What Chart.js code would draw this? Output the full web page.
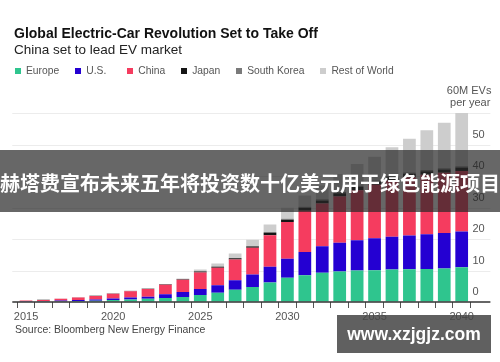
<!DOCTYPE html>
<html>
<head>
<meta charset="utf-8">
<script src="https://cdn.jsdelivr.net/npm/chart.js"></script>
<style>
body { margin: 0; background: #fff; }
#wrap { position: relative; width: 500px; height: 362px; overflow: hidden; font-family: "Liberation Sans", Arial, sans-serif; }
#evChart { position: absolute; left: 0; top: 0; }
.title { position: absolute; left: 14px; top: 25px; font-size: 14px; line-height: 16px; font-weight: bold; color: #111; white-space: nowrap; }
.subtitle { position: absolute; left: 14px; top: 42px; font-size: 13.5px; line-height: 16px; color: #222; white-space: nowrap; }
#legend { position: absolute; left: 15px; top: 64px; display: flex; gap: 16px; font-size: 10.3px; line-height: 13px; color: #555; }
#legend .item { display: flex; align-items: center; min-width: 36px; white-space: nowrap; }
#legend .box { width: 6px; height: 6px; margin-right: 5px; }
.source { position: absolute; left: 15px; top: 323px; font-size: 10.5px; line-height: 13px; color: #444; white-space: nowrap; }
.banner { position: absolute; left: 0; top: 150px; width: 500px; height: 62px; background: rgba(38,38,38,0.7); overflow: hidden; }
.banner span { display: block; width: 500px; text-align: center; white-space: nowrap; font-family: "Noto Sans CJK SC", sans-serif; font-weight: bold; font-size: 20px; line-height: 62px; color: #fff; padding-top: 2px; }
.mark { position: absolute; left: 337px; top: 315px; width: 154px; height: 38px; background: rgba(70,70,70,0.86); color: #fff; font-weight: bold; font-size: 17.5px; line-height: 38px; text-align: center; }
</style>
</head>
<body>
<div id="wrap">
  <canvas id="evChart" width="500" height="362"></canvas>
  <div class="title">Global Electric-Car Revolution Set to Take Off</div>
  <div class="subtitle">China set to lead EV market</div>
  <div id="legend"></div>
  <div class="source">Source: Bloomberg New Energy Finance</div>
  <div class="banner"><span>赫塔费宣布未来五年将投资数十亿美元用于绿色能源项目</span></div>
  <div class="mark">www.xzjgjz.com</div>
</div>
<script>
// EV sales per year, millions
const years = [2015, 2016, 2017, 2018, 2019, 2020, 2021, 2022, 2023, 2024, 2025, 2026, 2027,
               2028, 2029, 2030, 2031, 2032, 2033, 2034, 2035, 2036, 2037, 2038, 2039, 2040];
const europe = [0.15, 0.2, 0.25, 0.3, 0.4, 0.6, 0.8, 1.0, 1.3, 1.6, 2.2, 2.9, 3.9,
                4.8, 6.2, 7.7, 8.5, 9.3, 9.7, 10.0, 10.1, 10.3, 10.4, 10.5, 10.6, 11.0];
const us = [0.1, 0.15, 0.2, 0.3, 0.4, 0.5, 0.6, 0.7, 1.2, 1.6, 1.9, 2.4, 3.0,
            3.9, 5.0, 6.0, 7.4, 8.4, 9.1, 9.6, 10.1, 10.4, 10.7, 11.0, 11.3, 11.4];
const china = [0.2, 0.3, 0.55, 0.8, 1.1, 1.5, 2.0, 2.4, 3.0, 3.9, 5.3, 5.6, 6.6,
               8.5, 10.0, 11.7, 13.1, 13.6, 14.7, 15.9, 17.0, 17.9, 18.5, 18.9, 19.1, 19.2];
const japan = [0.02, 0.03, 0.04, 0.05, 0.05, 0.06, 0.07, 0.08, 0.1, 0.15, 0.3, 0.3, 0.4,
               0.45, 0.7, 0.75, 0.9, 0.9, 1.0, 1.0, 1.0, 1.0, 1.1, 1.1, 1.1, 1.1];
const southKorea = [0.01, 0.01, 0.02, 0.02, 0.03, 0.04, 0.05, 0.05, 0.05, 0.05, 0.1, 0.1, 0.1,
                    0.15, 0.3, 0.3, 0.3, 0.4, 0.4, 0.4, 0.4, 0.4, 0.4, 0.4, 0.4, 0.4];
const restOfWorld = [0.02, 0.03, 0.04, 0.05, 0.05, 0.1, 0.1, 0.1, 0.1, 0.2, 0.5, 0.9, 1.4,
                     2.0, 2.4, 3.5, 3.6, 4.4, 5.7, 6.9, 7.5, 9.1, 10.7, 12.6, 14.4, 16.9];
const seriesNames = ["Europe", "U.S.", "China", "Japan", "South Korea", "Rest of World"];
const seriesColors = ["#2fc58e", "#2400d2", "#f53c5f", "#151515", "#7a7a7a", "#cdcdcd"];
const yMax = 60;
const yStep = 10;

const seriesData = [europe, us, china, japan, southKorea, restOfWorld];

// legend
const legend = document.getElementById("legend");
seriesNames.forEach(function (name, i) {
    const item = document.createElement("div");
    item.className = "item";
    item.innerHTML = '<span class="box" style="background:' + seriesColors[i] + '"></span>' + name;
    legend.appendChild(item);
});

// full width grid, baseline and unit label
const decor = {
    id: "decor",
    beforeDatasetsDraw(chart) {
        const ctx = chart.ctx, y = chart.scales.y, area = chart.chartArea;
        ctx.save();
        ctx.strokeStyle = "#ececec";
        ctx.lineWidth = 1;
        y.ticks.forEach(function (t) {
            if (t.value === 0) return;
            const py = Math.round(y.getPixelForValue(t.value)) + 0.5;
            ctx.beginPath();
            ctx.moveTo(area.left - 5, py);
            ctx.lineTo(area.right + 20, py);
            ctx.stroke();
        });
        ctx.restore();
    },
    afterDatasetsDraw(chart) {
        const ctx = chart.ctx, y = chart.scales.y, area = chart.chartArea;
        const py = y.getPixelForValue(0);
        ctx.save();
        ctx.strokeStyle = "#333";
        ctx.lineWidth = 1.5;
        ctx.beginPath();
        ctx.moveTo(area.left - 5, py);
        ctx.lineTo(area.right + 20, py);
        ctx.stroke();

        const top = y.getPixelForValue(yMax);
        ctx.fillStyle = "#555";
        ctx.font = "11px 'Liberation Sans', Arial, sans-serif";
        ctx.textAlign = "right";
        ctx.textBaseline = "middle";
        ctx.fillText(yMax + "M EVs", area.right + 21, top - 22.5);
        ctx.fillText("per year", area.right + 20, top - 10);
        ctx.restore();
    }
};

const ctx = document.getElementById("evChart");

new Chart(ctx, {
    type: "bar",
    data: {
        labels: years,
        datasets: seriesData.map(function (d, i) {
            return {
                label: seriesNames[i],
                data: d,
                backgroundColor: seriesColors[i],
                borderWidth: 0,
                barPercentage: 0.73,
                categoryPercentage: 1
            };
        })
    },
    options: {
        responsive: false,
        animation: false,
        layout: { padding: { left: 17.3, right: 0, top: 113, bottom: 35 } },
        plugins: {
            legend: { display: false },
            tooltip: { enabled: false }
        },
        scales: {
            x: {
                stacked: true,
                offset: true,
                border: { display: false },
                grid: { offset: true, drawOnChartArea: false, drawTicks: true, tickLength: 6, tickColor: "#555" },
                ticks: {
                    autoSkip: false,
                    maxRotation: 0,
                    padding: 2,
                    color: "#555",
                    font: { family: "'Liberation Sans', Arial, sans-serif", size: 11 },
                    callback: function (v, i) {
                        return years[i] % 5 === 0 ? String(years[i]) : "";
                    }
                },
                afterFit: function (s) { s.height = 25; }
            },
            y: {
                stacked: true,
                position: "right",
                min: 0,
                max: yMax,
                border: { display: false },
                grid: { drawOnChartArea: false, drawTicks: false },
                ticks: {
                    stepSize: yStep,
                    padding: 2,
                    labelOffset: -10,
                    color: "#555",
                    font: { family: "'Liberation Sans', Arial, sans-serif", size: 11 },
                    callback: function (v) { return v === yMax ? "" : v; }
                },
                afterFit: function (s) { s.width = 29.6; }
            }
        }
    },
    plugins: [decor]
});
</script>
</body>
</html>
